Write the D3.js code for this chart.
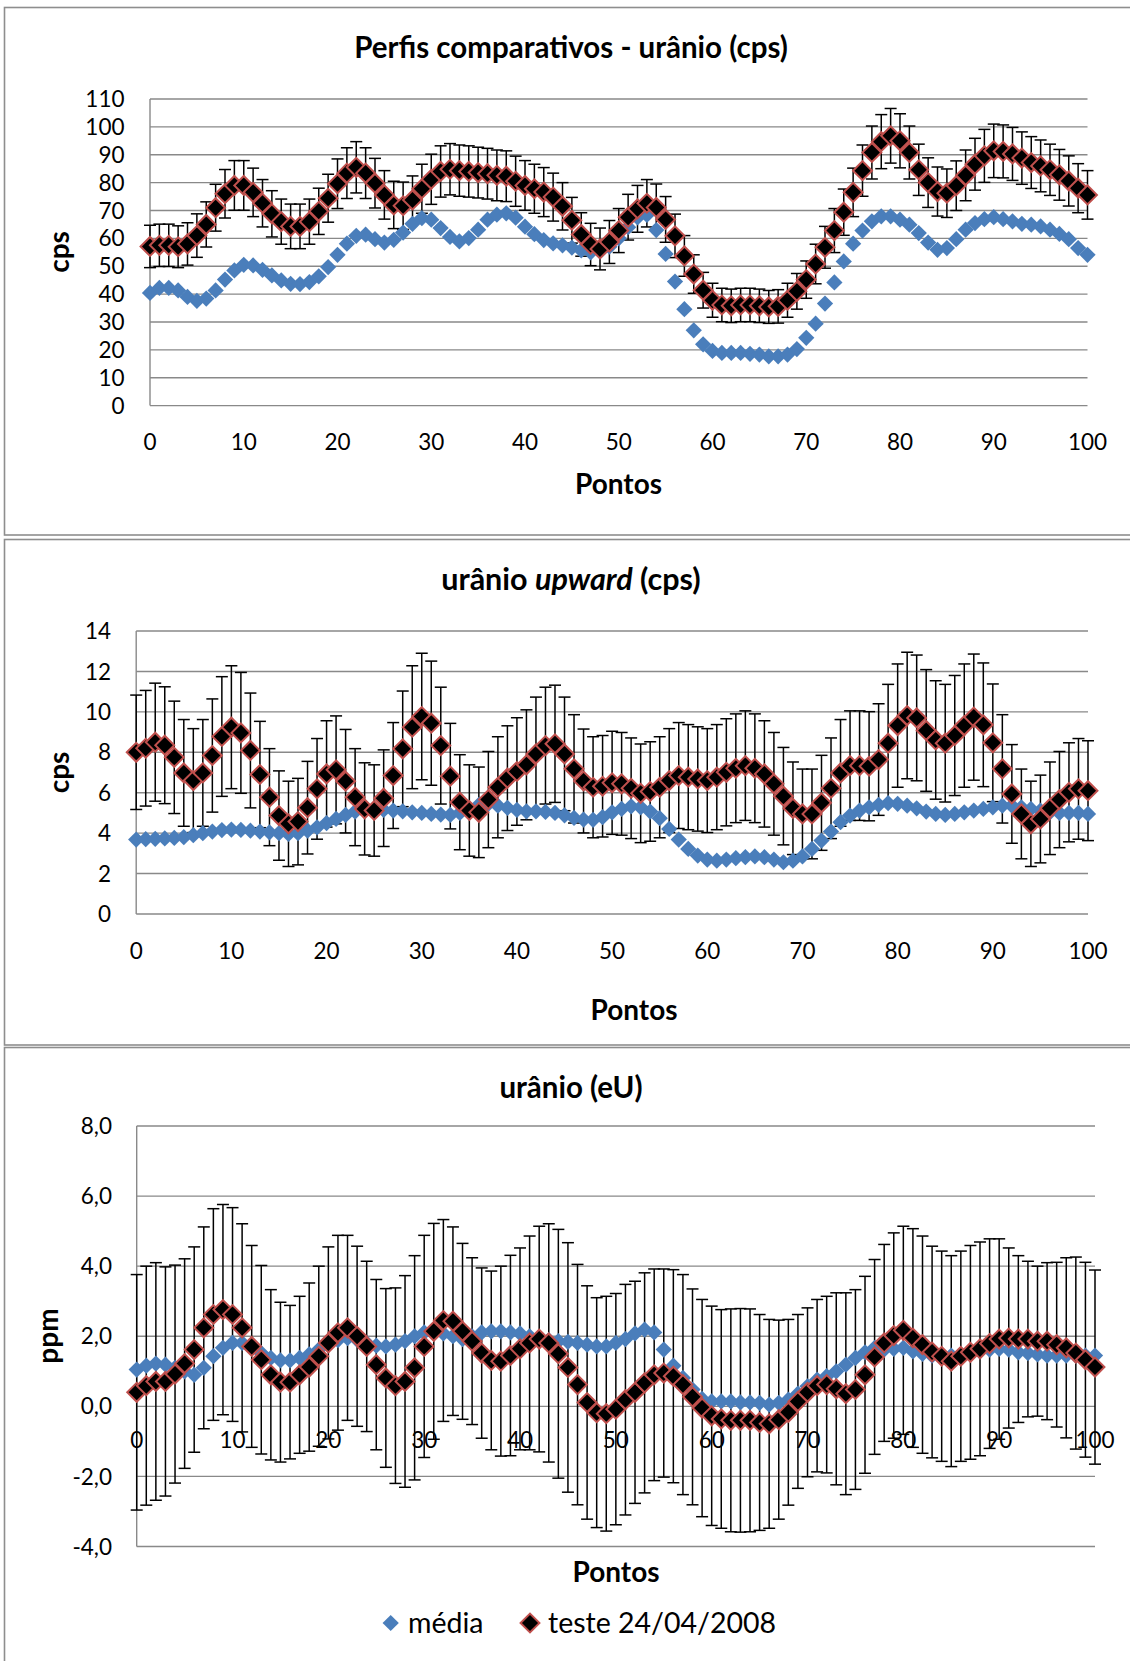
<!DOCTYPE html>
<html>
<head>
<meta charset="utf-8">
<script src="https://cdn.jsdelivr.net/npm/d3@7"></script>
<style>
  body { margin: 0; background: #fff; }
  svg { display: block; }
  text { font-family: Lato, "Noto Sans", "DejaVu Sans", sans-serif; fill: #000; }
</style>
</head>
<body>
<svg id="chart" width="1130" height="1661"></svg>
<script>
// Point numbers along the profile (0 ... 100)
const pontos = [
  0,1,2,3,4,5,6,7,8,9,10,11,12,13,14,15,16,17,18,19,20,
  21,22,23,24,25,26,27,28,29,30,31,32,33,34,35,36,37,38,39,40,
  41,42,43,44,45,46,47,48,49,50,51,52,53,54,55,56,57,58,59,60,
  61,62,63,64,65,66,67,68,69,70,71,72,73,74,75,76,77,78,79,80,
  81,82,83,84,85,86,87,88,89,90,91,92,93,94,95,96,97,98,99,100
];

// --- Uranium window, counts per second ---
const mediaCps = [
  40.4,42.2,42.2,41.3,39,37.6,38.4,41.3,45.2,48.5,50.5,50.3,48.7,46.7,44.9,43.7,43.6,44.3,46.4,49.7,54.1,
  58.1,60.9,61.3,59.7,58.5,59.5,62.1,65.2,67.3,66.7,63.7,60.5,58.9,60.1,63.1,66.7,68.5,69,67.4,64.2,
  61.5,59.4,58.2,57.5,56.7,55.7,55,55.3,57,60,64,67.5,68.4,63,54.4,44.5,34.6,27,22,19.6,
  18.9,18.9,18.9,18.6,18.3,17.7,17.7,18.3,20.3,24.3,29.4,36.6,44.2,51.7,58.1,62.8,66.1,67.9,67.9,66.7,
  64.9,61.9,58.5,55.9,56.5,59.7,63.1,65.5,66.9,67.6,66.9,66.1,65.2,64.9,64.3,63.1,61.6,59.7,56.5,54.1
];
const testeCps = [
  57.1,57.5,57.5,57,58,61,65,71,76,79,79,76.5,72.6,68.8,66,64.3,64.3,66,69.7,74.4,79.6,
  83.4,85.5,83.4,79.8,75.6,72,71.7,73.8,77.8,81.2,84,84.8,84.3,84,83.6,83.2,82.6,82.3,80.5,79,
  77.8,76.6,74.8,71.5,66.5,61.4,57.8,56.2,58.7,62.8,67.6,70.6,72.6,71.1,66.8,60.9,53.7,47.2,41.4,37.8,
  36.1,35.8,36.1,36.1,35.8,35.4,35.6,37.8,41,45.2,50.8,56.8,62.8,69.4,76.5,84.3,90.8,94.7,96.8,95,
  90.8,84.6,80,76.8,76.2,78.9,82.6,86.6,89.6,91.4,91.2,90.3,88.8,87.2,86,84.6,82.8,80.6,78,75.6
];
const erroCps = [
  7.6,7.6,7.6,7.5,7.6,7.8,8.1,8.4,8.7,8.9,8.9,8.7,8.5,8.3,8.1,8.0,8.0,8.1,8.3,8.6,8.9,
  9.1,9.2,9.1,8.9,8.7,8.5,8.5,8.6,8.8,9.0,9.2,9.2,9.2,9.2,9.1,9.1,9.1,9.1,9.0,8.9,
  8.8,8.8,8.6,8.5,8.2,7.8,7.6,7.5,7.7,7.9,8.2,8.4,8.5,8.4,8.2,7.8,7.3,6.9,6.4,6.1,
  6.0,6.0,6.0,6.0,6.0,5.9,6.0,6.1,6.4,6.7,7.1,7.5,7.9,8.3,8.7,9.2,9.5,9.7,9.8,9.7,
  9.5,9.2,8.9,8.8,8.7,8.9,9.1,9.3,9.5,9.6,9.5,9.5,9.4,9.3,9.3,9.2,9.1,9.0,8.8,8.7
];

// --- Upward-looking uranium detector, counts per second ---
const mediaUp = [
  3.68,3.7,3.72,3.74,3.76,3.8,3.9,4.0,4.08,4.15,4.18,4.16,4.12,4.08,4.04,4.0,3.96,4.0,4.12,4.29,4.5,
  4.7,4.9,5.07,5.17,5.2,5.15,5.12,5.08,5.03,5.0,4.95,4.92,4.9,5.0,5.2,5.4,5.45,5.36,5.25,5.15,
  5.08,5.08,5.05,5.0,4.88,4.75,4.67,4.66,4.79,5.03,5.2,5.33,5.28,5.07,4.74,4.21,3.68,3.22,2.89,2.69,
  2.64,2.69,2.76,2.81,2.85,2.81,2.69,2.56,2.64,2.85,3.22,3.63,4.08,4.54,4.87,5.12,5.28,5.4,5.48,5.45,
  5.36,5.23,5.07,4.95,4.9,4.95,5.03,5.12,5.2,5.28,5.36,5.36,5.28,5.2,5.12,5.03,5.0,5.0,5.0,4.95
];
const testeUp = [
  8.0,8.2,8.5,8.35,7.75,6.98,6.6,6.98,7.84,8.78,9.24,8.96,8.09,6.9,5.78,4.87,4.46,4.57,5.26,6.19,6.93,
  7.13,6.57,5.78,5.2,5.12,5.73,6.85,8.17,9.24,9.77,9.44,8.33,6.82,5.53,5.12,5.03,5.66,6.27,6.72,7.05,
  7.38,7.92,8.33,8.42,7.92,7.18,6.58,6.27,6.32,6.49,6.44,6.22,5.97,6.06,6.27,6.6,6.85,6.77,6.68,6.6,
  6.77,7.01,7.21,7.34,7.21,6.93,6.44,5.83,5.23,4.95,4.95,5.5,6.22,6.98,7.34,7.34,7.31,7.64,8.45,9.32,
  9.82,9.7,9.08,8.61,8.45,8.83,9.32,9.74,9.36,8.47,7.18,5.94,4.95,4.46,4.7,5.23,5.66,6.02,6.19,6.1
];
const erroUp = [
  2.83,2.86,2.92,2.89,2.78,2.64,2.57,2.64,2.8,2.96,3.04,2.99,2.84,2.63,2.4,2.21,2.11,2.14,2.29,2.49,2.63,
  2.67,2.56,2.4,2.28,2.26,2.39,2.62,2.86,3.04,3.13,3.07,2.89,2.61,2.35,2.26,2.24,2.38,2.5,2.59,2.66,
  2.72,2.81,2.89,2.9,2.81,2.68,2.57,2.5,2.51,2.55,2.54,2.49,2.44,2.46,2.5,2.57,2.62,2.6,2.58,2.57,
  2.6,2.65,2.69,2.71,2.69,2.63,2.54,2.41,2.29,2.22,2.22,2.35,2.49,2.64,2.71,2.71,2.7,2.76,2.91,3.05,
  3.13,3.11,3.01,2.93,2.91,2.97,3.05,3.12,3.06,2.91,2.68,2.44,2.22,2.11,2.17,2.29,2.38,2.45,2.49,2.47
];

// --- Equivalent uranium, ppm ---
const mediaEU = [
  1.05,1.16,1.22,1.19,1.1,1.0,0.9,1.1,1.43,1.67,1.81,1.81,1.7,1.52,1.38,1.31,1.31,1.38,1.48,1.62,1.76,
  1.89,1.95,1.9,1.81,1.73,1.71,1.76,1.86,2.0,2.11,2.14,2.08,2.0,1.92,2.0,2.11,2.14,2.14,2.11,2.08,
  2.0,1.92,1.89,1.86,1.84,1.81,1.76,1.71,1.71,1.81,1.92,2.08,2.19,2.11,1.62,1.16,0.81,0.48,0.21,0.14,
  0.14,0.14,0.11,0.11,0.1,0.05,0.1,0.19,0.36,0.57,0.76,0.86,1.0,1.19,1.38,1.54,1.67,1.62,1.64,1.67,
  1.57,1.5,1.45,1.43,1.45,1.48,1.52,1.57,1.62,1.64,1.62,1.54,1.52,1.48,1.45,1.45,1.45,1.45,1.45,1.45
];
const testeEU = [
  0.4,0.59,0.71,0.71,0.92,1.22,1.62,2.24,2.62,2.76,2.62,2.24,1.71,1.33,0.9,0.69,0.69,0.9,1.12,1.43,1.81,
  2.1,2.24,2.0,1.71,1.19,0.81,0.59,0.71,1.1,1.71,2.14,2.45,2.43,2.14,1.86,1.52,1.31,1.29,1.45,1.64,
  1.81,1.92,1.81,1.5,1.11,0.62,0.11,-0.18,-0.21,-0.08,0.19,0.4,0.67,0.9,0.95,0.86,0.62,0.27,-0.05,-0.27,
  -0.36,-0.4,-0.4,-0.4,-0.46,-0.5,-0.38,-0.17,0.14,0.4,0.59,0.62,0.5,0.36,0.48,0.9,1.41,1.81,2.02,2.17,
  1.95,1.76,1.55,1.43,1.29,1.43,1.54,1.64,1.79,1.92,1.95,1.92,1.92,1.86,1.86,1.76,1.67,1.52,1.33,1.12
];
const erroEU = [
  3.36,3.41,3.39,3.27,3.11,2.99,2.93,2.88,3.02,3.0,3.05,2.97,2.88,2.69,2.43,2.28,2.19,2.24,2.4,2.57,2.74,
  2.78,2.64,2.57,2.43,2.43,2.55,2.79,3.02,3.2,3.17,3.08,2.88,2.69,2.51,2.38,2.43,2.55,2.71,2.86,2.88,
  3.05,3.22,3.4,3.55,3.56,3.43,3.33,3.28,3.35,3.3,3.29,3.17,3.14,3.02,2.97,3.04,3.14,3.08,3.1,3.13,
  3.12,3.18,3.19,3.18,3.08,2.98,2.84,2.65,2.48,2.41,2.46,2.52,2.74,2.88,2.85,2.81,2.78,2.81,2.93,2.97,
  3.12,3.1,3.02,3.0,3.01,3.0,3.05,3.05,2.99,2.86,2.57,2.38,2.22,2.14,2.24,2.35,2.57,2.74,2.78,2.77
];

// Axis ticks
const xTicks = [0,10,20,30,40,50,60,70,80,90,100];
const yTicksCps = [0,10,20,30,40,50,60,70,80,90,100,110];
const yTicksUp = [0,2,4,6,8,10,12,14];
const yTicksEU = [-4,-2,0,2,4,6,8];

// Series names
const serieNomes = ["média", "teste 24/04/2008"];

const COR_MEDIA = "#4A7EBB";
const COR_BORDA = "#C0504D";
const COR_GRADE = "#898989";
const COR_MOLDURA = "#8E8E8E";

// marker areas (rotated squares)
const TAM_MEDIA = 132;
const TAM_TESTE = 178;

const svg = d3.select("#chart");

const painéis = [
  {
    media: mediaCps, teste: testeCps, erro: erroCps,
    frame: [4.5, 7.5, 1300, 527.5],
    xr: [150, 1087.5], yr: [405.6, 99], yDom: [0, 110], yTicks: yTicksCps,
    fmt: d => String(d),
    yLabelX: 124.5, xLabelY: 449.6,
    title: [{t: "Perfis comparativos - urânio (cps)"}], titleXY: [571, 58], titleSize: 29.5,
    xTitleXY: [618.5, 494], yTitle: "cps", yTitleXY: [69, 252]
  },
  {
    media: mediaUp, teste: testeUp, erro: erroUp,
    frame: [4.5, 539.5, 1300, 505.5],
    xr: [136.2, 1088], yr: [914, 631], yDom: [0, 14], yTicks: yTicksUp,
    fmt: d => String(d),
    yLabelX: 111, xLabelY: 958.6,
    title: [{t: "urânio "}, {t: "upward", it: true}, {t: " (cps)"}], titleXY: [571, 590.4], titleSize: 30.5,
    xTitleXY: [634, 1020], yTitle: "cps", yTitleXY: [69, 772.5]
  },
  {
    media: mediaEU, teste: testeEU, erro: erroEU,
    frame: [4.5, 1047.5, 1300, 700],
    xr: [136.7, 1095], yr: [1546.5, 1126], yDom: [-4, 8], yTicks: yTicksEU,
    fmt: d => d3.format(".1f")(d).replace(".", ",").replace("−", "-"),
    yLabelX: 112, xLabelY: 1448,
    title: [{t: "urânio (eU)"}], titleXY: [571, 1098], titleSize: 29.5,
    xTitleXY: [616, 1582], yTitle: "ppm", yTitleXY: [58, 1336]
  }
];

const losango = d3.symbol().type(d3.symbolSquare);

function desenhaPainel(p) {
  const g = svg.append("g");
  const x = d3.scaleLinear().domain([0, 100]).range(p.xr);
  const y = d3.scaleLinear().domain(p.yDom).range(p.yr);

  // frame
  g.append("rect")
    .attr("x", p.frame[0]).attr("y", p.frame[1])
    .attr("width", p.frame[2]).attr("height", p.frame[3])
    .attr("fill", "#fff").attr("stroke", COR_MOLDURA).attr("stroke-width", 1.6);

  // horizontal gridlines
  g.append("g").selectAll("line").data(p.yTicks).join("line")
    .attr("x1", x(0)).attr("x2", x(100))
    .attr("y1", d => y(d)).attr("y2", d => y(d))
    .attr("stroke", COR_GRADE).attr("stroke-width", 1.4);

  // vertical axis line
  g.append("line")
    .attr("x1", x(0)).attr("x2", x(0))
    .attr("y1", y(p.yDom[1])).attr("y2", y(p.yDom[0]))
    .attr("stroke", COR_GRADE).attr("stroke-width", 1.4);

  // y tick labels
  g.append("g").selectAll("text").data(p.yTicks).join("text")
    .attr("x", p.yLabelX).attr("y", d => y(d) + 8.1)
    .attr("text-anchor", "end").attr("font-size", 22.5)
    .text(p.fmt);

  // x tick labels
  g.append("g").selectAll("text").data(xTicks).join("text")
    .attr("x", d => x(d)).attr("y", p.xLabelY)
    .attr("text-anchor", "middle").attr("font-size", 22.5)
    .text(d => d);

  // chart title
  const t = g.append("text")
    .attr("x", p.titleXY[0]).attr("y", p.titleXY[1])
    .attr("text-anchor", "middle").attr("font-size", p.titleSize).attr("font-weight", "bold");
  p.title.forEach(s => t.append("tspan").attr("font-style", s.it ? "italic" : null).text(s.t));

  // axis titles
  g.append("text")
    .attr("x", p.xTitleXY[0]).attr("y", p.xTitleXY[1])
    .attr("text-anchor", "middle").attr("font-size", 28).attr("font-weight", "bold")
    .text("Pontos");
  g.append("text")
    .attr("transform", `translate(${p.yTitleXY[0]},${p.yTitleXY[1]}) rotate(-90)`)
    .attr("text-anchor", "middle").attr("font-size", 28).attr("font-weight", "bold")
    .text(p.yTitle);

  // error bars of the test series
  const eb = g.append("g").attr("stroke", "#000").attr("stroke-width", 1.5);
  pontos.forEach((pt, i) => {
    const cx = x(pt), lo = y(p.teste[i] - p.erro[i]), hi = y(p.teste[i] + p.erro[i]);
    eb.append("line").attr("x1", cx).attr("x2", cx).attr("y1", lo).attr("y2", hi);
    eb.append("line").attr("x1", cx - 6).attr("x2", cx + 6).attr("y1", lo).attr("y2", lo);
    eb.append("line").attr("x1", cx - 6).attr("x2", cx + 6).attr("y1", hi).attr("y2", hi);
  });

  // mean profile
  g.append("g").selectAll("path").data(pontos).join("path")
    .attr("d", losango.size(TAM_MEDIA)())
    .attr("transform", (d, i) => `translate(${x(d)},${y(p.media[i])}) rotate(45)`)
    .attr("fill", COR_MEDIA);

  // test profile
  g.append("g").selectAll("path").data(pontos).join("path")
    .attr("d", losango.size(TAM_TESTE)())
    .attr("transform", (d, i) => `translate(${x(d)},${y(p.teste[i])}) rotate(45)`)
    .attr("fill", "#000").attr("stroke", COR_BORDA).attr("stroke-width", 2);
}

painéis.forEach(desenhaPainel);

// legend
const leg = svg.append("g");
leg.append("path").attr("d", losango.size(TAM_MEDIA)())
  .attr("transform", "translate(390.7,1623) rotate(45)").attr("fill", COR_MEDIA);
leg.append("text").attr("x", 408).attr("y", 1633).attr("font-size", 28.5).text(serieNomes[0]);
leg.append("path").attr("d", losango.size(TAM_TESTE)())
  .attr("transform", "translate(530,1623) rotate(45)")
  .attr("fill", "#000").attr("stroke", COR_BORDA).attr("stroke-width", 2);
leg.append("text").attr("x", 548).attr("y", 1633).attr("font-size", 28.5).text(serieNomes[1]);
</script>
</body>
</html>
